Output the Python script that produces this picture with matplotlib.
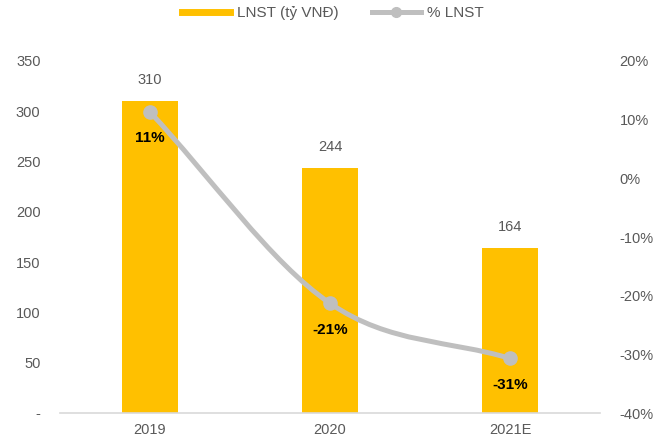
import numpy as np
import matplotlib as mpl
import matplotlib.pyplot as plt
from matplotlib.path import Path
from matplotlib.patches import PathPatch
from matplotlib.lines import Line2D
from matplotlib.ticker import FuncFormatter

mpl.use('Agg')
mpl.rcParams['font.family'] = ['Liberation Sans', 'DejaVu Sans']

# du lieu
years = ['2019', '2020', '2021E']
lnst = [310, 244, 164]          # ty VND
pct_lnst = [11.3, -21.3, -30.7]  # %

BAR_COLOR = '#FFC000'
LINE_COLOR = '#BFBFBF'
TEXT_COLOR = '#595959'

fig = plt.figure(figsize=(6.65, 4.42), dpi=100)
ax = fig.add_axes([0.0902, 0.0656, 0.812, 0.7964])
ax2 = ax.twinx()

x = np.arange(len(years))
ax.bar(x, lnst, width=0.31, color=BAR_COLOR, zorder=1)
ax.set_xlim(-0.5, len(years) - 0.5)
ax.set_ylim(0, 350)
ax.set_yticks(np.arange(0, 351, 50))
ax.yaxis.set_major_formatter(FuncFormatter(lambda v, p: '-' if v == 0 else f'{v:.0f}'))
ax.set_xticks(x)
ax.set_xticklabels(years)

for xi, v in zip(x, lnst):
    ax.annotate(f'{v}', (xi, v), xytext=(0, 15), textcoords='offset points',
                ha='center', va='center', fontsize=10.5, color=TEXT_COLOR)

# duong cong tron kieu Excel (Catmull-Rom -> Bezier), dau mut huong thang
pts = np.column_stack([x, pct_lnst]).astype(float)
verts = [pts[0]]
codes = [Path.MOVETO]
n = len(pts)
for i in range(n - 1):
    p0 = pts[i]
    p1 = pts[i + 1]
    if i == 0:
        c1 = p0 + (p1 - p0) / 3
    else:
        c1 = p0 + (p1 - pts[i - 1]) / 6
    if i + 2 >= n:
        c2 = p1 - (p1 - p0) / 3
    else:
        c2 = p1 - (pts[i + 2] - p0) / 6
    verts += [c1, c2, p1]
    codes += [Path.CURVE4] * 3
patch = PathPatch(Path(verts, codes), facecolor='none', edgecolor=LINE_COLOR,
                  lw=3.6, capstyle='round', joinstyle='round', zorder=3)
ax2.add_patch(patch)
ax2.plot(x, pct_lnst, 'o', color=LINE_COLOR, markersize=9.5, zorder=4)

ax2.set_ylim(-40, 20)
ax2.set_yticks(np.arange(-40, 21, 10))
ax2.yaxis.set_major_formatter(FuncFormatter(lambda v, p: f'{v:.0f}%'))

for xi, v in zip(x, pct_lnst):
    ax2.annotate(f'{v:.0f}%', (xi, v), xytext=(0, -19), textcoords='offset points',
                 ha='center', va='center', fontsize=11, fontweight='bold', color='black',
                 zorder=5)

for a in (ax, ax2):
    for s in a.spines.values():
        s.set_visible(False)
    a.tick_params(length=0, labelsize=10.5, labelcolor=TEXT_COLOR)
ax.spines['bottom'].set_visible(True)
ax.spines['bottom'].set_color('#D9D9D9')
ax.spines['bottom'].set_linewidth(1.2)
ax.tick_params(axis='y', pad=14)
ax.tick_params(axis='x', pad=7)
ax2.tick_params(axis='y', pad=14)

handles = [
    Line2D([], [], color=BAR_COLOR, lw=5),
    Line2D([], [], color=LINE_COLOR, lw=3.6, marker='o', markersize=7),
]
fig.legend(handles, ['LNST (tỷ VNĐ)', '% LNST'], loc='center', bbox_to_anchor=(0.5, 0.97),
           ncol=2, frameon=False, fontsize=11, labelcolor=TEXT_COLOR,
           handlelength=3.2, handletextpad=0.4, columnspacing=2.2)

fig.savefig('out.png', dpi=100)
